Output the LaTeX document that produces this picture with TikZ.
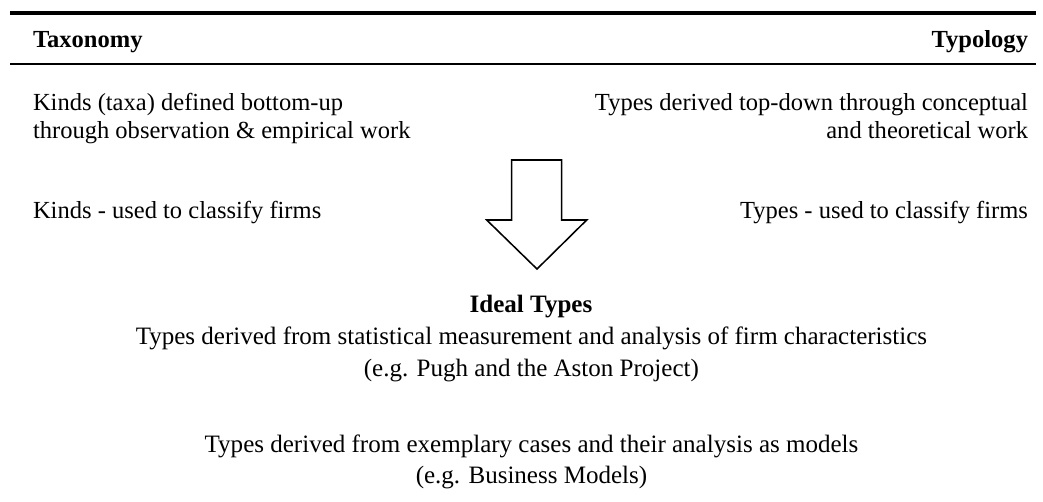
\documentclass[tikz,border=0pt]{standalone}
\usepackage{fontspec}
\setmainfont{Liberation Serif}
\begin{document}
\begin{tikzpicture}[x=0.025cm,y=-0.025cm,
  txt/.style={inner sep=0pt,outer sep=0pt,font=\fontsize{17.45}{20}\selectfont},
  hdr/.style={txt,font=\fontsize{17.45}{20}\selectfont\bfseries},
  ctxt/.style={inner sep=0pt,outer sep=0pt,font=\fontsize{17.8}{20}\selectfont},
  chdr/.style={ctxt,font=\fontsize{17.8}{20}\selectfont\bfseries},
  rule/.style={line cap=butt}]
\useasboundingbox (0,0) rectangle (1043,501);

% table rules
\draw[rule,line width=3.2pt] (10,13) -- (1036,13);
\draw[rule,line width=1.6pt] (10,64) -- (1036,64);

% column headings
\node[hdr,anchor=base west] (taxhead) at (33,47) {Taxonomy};
\node[hdr,anchor=base east] (typhead) at (1028,47) {Typology};

% left column
\node[txt,anchor=base west] (kindsA) at (33,110) {Kinds (taxa) defined bottom-up};
\node[txt,anchor=base west] (kindsB) at (33,138) {through observation \& empirical work};
\node[txt,anchor=base west] (kindsC) at (33,218) {Kinds - used to classify firms};

% right column
\node[txt,anchor=base east] (typesA) at (1028,110) {Types derived top-down through conceptual};
\node[txt,anchor=base east] (typesB) at (1028,138) {and theoretical work};
\node[txt,anchor=base east] (typesC) at (1028,218) {Types - used to classify firms};

% block arrow pointing down
\draw[line width=1.1pt,line join=miter,fill=white]
  (511.7,160) -- (561.7,160) -- (561.7,220) -- (586.7,220) -- (537,269)
  -- (486.7,220) -- (511.7,220) -- cycle;

% ideal types
\node[chdr,anchor=base] (ideal) at (531,312) {Ideal Types};
\node[ctxt,anchor=base] (statA) at (531.4,344) {Types derived from statistical measurement and analysis of firm characteristics};
\node[ctxt,anchor=base] (statB) at (531.4,376) {(e.g. Pugh and the Aston Project)};
\node[ctxt,anchor=base] (exA) at (531.5,452) {Types derived from exemplary cases and their analysis as models};
\node[ctxt,anchor=base] (exB) at (531.5,483) {(e.g. Business Models)};
\end{tikzpicture}
\end{document}
